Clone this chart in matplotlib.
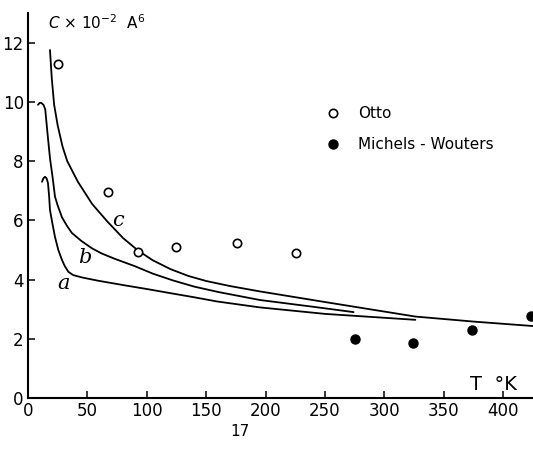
import matplotlib
matplotlib.use("Agg")
from matplotlib import pyplot as plt

# curve a
t_a = [11.8, 13, 14.3, 15.6, 16.8, 17.8, 18.5, 20.5, 22.7, 25.5, 28.6, 31, 34, 38, 45.5, 59, 82,
       100, 117, 140, 159, 195, 250, 326]
c_a = [7.3, 7.42, 7.47, 7.42, 7.26, 6.8, 6.35, 5.9, 5.44, 5.0, 4.66, 4.45, 4.26, 4.15, 4.07, 3.96, 3.8,
       3.68, 3.56, 3.4, 3.26, 3.06, 2.84, 2.64]

# curve b
t_b = [8.4, 9.7, 11, 13, 14.5, 16.5, 18.5, 21, 22.7, 25, 28.6, 33, 37, 45, 54, 62, 73, 90,
       105, 122, 140, 160, 195, 240, 274]
c_b = [9.9, 9.96, 9.97, 9.9, 9.75, 8.9, 8.1, 7.36, 6.8, 6.5, 6.1, 5.8, 5.57, 5.3, 5.05, 4.88, 4.7, 4.45,
       4.2, 3.97, 3.76, 3.58, 3.31, 3.08, 2.9]

# curve c
t_c = [18.5, 20, 22, 25, 29, 33, 42, 54, 67, 80, 92.6, 105, 120, 135, 150, 170, 195, 250,
       326, 375, 425]
c_c = [11.75, 10.8, 9.9, 9.2, 8.5, 8.0, 7.3, 6.55, 5.95, 5.4, 4.98, 4.65, 4.35, 4.12, 3.95, 3.78, 3.6, 3.24,
       2.75, 2.58, 2.43]

# Otto (open circles)
t_otto = [25, 67, 92.6, 124.6, 176, 225.7]
c_otto = [11.28, 6.96, 4.93, 5.1, 5.24, 4.9]

# Michels - Wouters (filled)
t_mw = [275.4, 324, 374, 423.6]
c_mw = [1.99, 1.86, 2.3, 2.77]

x_ticks = [0, 50, 100, 150, 200, 250, 300, 350, 400]
y_ticks = [0, 2, 4, 6, 8, 10, 12]

fig = plt.figure(figsize=(5.33, 4.58), dpi=100)
ax = fig.add_axes([28 / 533, 60 / 458, 505 / 533, 385 / 458])

for t, c in [(t_a, c_a), (t_b, c_b), (t_c, c_c)]:
    ax.plot(t, c, color='black', lw=1.3, solid_capstyle='round', solid_joinstyle='round')

ax.plot(t_otto, c_otto, 'o', ms=6, mfc='white', mec='black', mew=1.2,
        ls='none', label='Otto', zorder=3)
ax.plot(t_mw, c_mw, 'o', ms=6.5, mfc='black', mec='black',
        ls='none', label='Michels - Wouters', zorder=3)

ax.set_xlim(0, 425)
ax.set_ylim(0, 13.0)
ax.set_xticks(x_ticks)
ax.set_yticks(y_ticks)
ax.tick_params(direction='in', length=5, width=1.1, labelsize=12, pad=3)
for s in ['top', 'right']:
    ax.spines[s].set_visible(False)
for s in ['left', 'bottom']:
    ax.spines[s].set_linewidth(1.5)

ax.text(16.8, 12.67, r'$C$ × 10$^{-2}$  A$^{6}$', fontsize=11, va='center')
ax.text(372, 0.44, 'T  °K', fontsize=14, va='center')

curve_font = dict(fontsize=15, family='DejaVu Serif', style='italic', ha='center', va='center')
ax.text(29.5, 3.85, 'a', **curve_font)
ax.text(48, 4.73, 'b', **curve_font)
ax.text(75.8, 6.0, 'c', **curve_font)

ax.legend(loc='upper left', bbox_to_anchor=(0.559, 0.793), frameon=False,
          numpoints=1, handlelength=1.2, handletextpad=1.0,
          labelspacing=1.05, fontsize=11)

fig.text(240 / 533, 1 - 432 / 458, '17', fontsize=11, ha='center', va='center')

fig.savefig('out.png', dpi=100)
